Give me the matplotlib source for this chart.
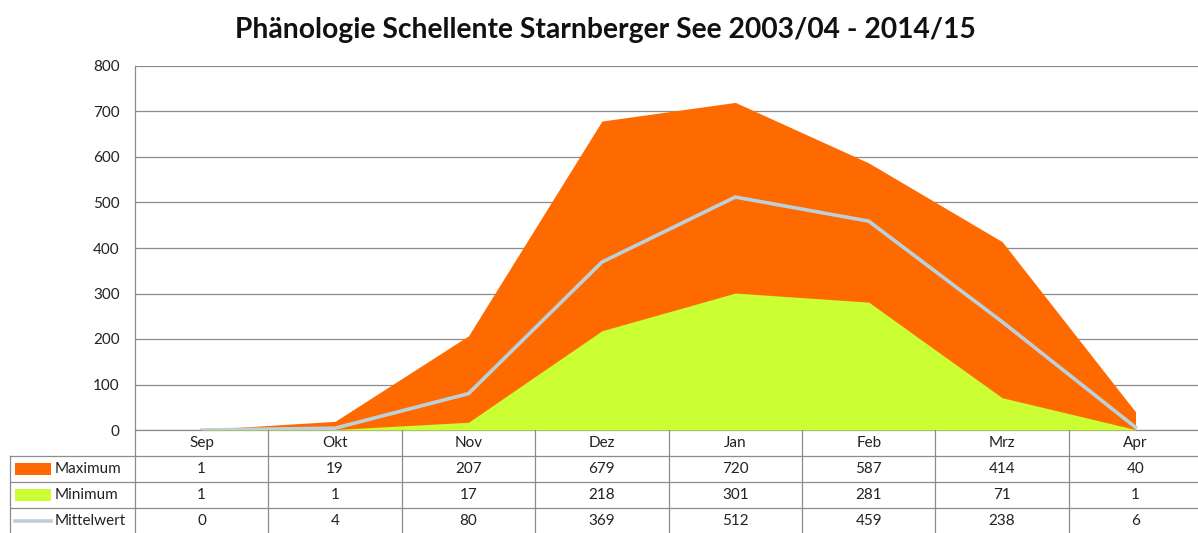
import matplotlib
matplotlib.use("Agg")
from matplotlib import pyplot as plt
import numpy as np

MONTHS = ["Sep", "Okt", "Nov", "Dez", "Jan", "Feb", "Mrz", "Apr"]
MAXIMUM = [1, 19, 207, 679, 720, 587, 414, 40]
MINIMUM = [1, 1, 17, 218, 301, 281, 71, 1]
MITTELWERT = [0, 4, 80, 369, 512, 459, 238, 6]
SERIES_NAMES = ["Maximum", "Minimum", "Mittelwert"]
Y_TICKS = [0, 100, 200, 300, 400, 500, 600, 700, 800]

ORANGE = "#FF6A00"
GREEN = "#CCFF33"
MEAN_COLOR = "#BCD0DA"
GRID = "#8C8C8C"
TEXT = "#222222"
FS = 11

plt.rcParams["font.family"] = ["Lato", "DejaVu Sans"]

W, H = 1198, 533
fig = plt.figure(figsize=(W / 100, H / 100), dpi=100)
fig.patch.set_facecolor("white")

# geometry in pixels
col_w = 133.4
ax_left, ax_top, ax_bottom = 135, 66, 430
ax_right = ax_left + col_w * len(MONTHS)

ax = fig.add_axes([ax_left / W, (H - ax_bottom) / H,
                   (ax_right - ax_left) / W, (ax_bottom - ax_top) / H])
x = np.arange(len(MONTHS))
ax.fill_between(x, 0, MAXIMUM, color=ORANGE, lw=0, zorder=2)
ax.fill_between(x, 0, MINIMUM, color=GREEN, lw=0, zorder=3)
ax.plot(x, MITTELWERT, color=MEAN_COLOR, lw=2.6, zorder=4, solid_joinstyle="miter")
ax.set_xlim(-0.5, len(MONTHS) - 0.5)
ax.set_ylim(0, 800)
ax.set_yticks(Y_TICKS)
ax.set_yticklabels([str(v) for v in Y_TICKS], fontsize=FS, color=TEXT)
ax.yaxis.grid(True, color=GRID, lw=0.9, zorder=0)
ax.set_axisbelow(True)
ax.tick_params(axis="y", length=0, pad=11)
ax.set_xticks([])
for side in ["top", "right"]:
    ax.spines[side].set_visible(False)
ax.spines["left"].set_color(GRID)
ax.spines["bottom"].set_color(GRID)
ax.spines["left"].set_linewidth(0.9)
ax.spines["bottom"].set_linewidth(0.9)

fig.text(0.5 * (235 + 975) / W, 1 - 30 / H,
         "Phänologie Schellente Starnberger See 2003/04 - 2014/15",
         ha="center", va="center", fontsize=20.3, fontweight="bold", color="#111111")

# data table below the axes
row_h = 26
tab_left = 10
legend_w = ax_left - tab_left
tab = fig.add_axes([tab_left / W, (H - (ax_bottom + 4 * row_h)) / H,
                    (ax_right - tab_left) / W, 4 * row_h / H])
x0 = -0.5 - legend_w / col_w
tab.set_xlim(x0, len(MONTHS) - 0.5)
tab.set_ylim(4, 0)
tab.axis("off")

lw = 0.9
# vertical lines between categories
for i in range(len(MONTHS) + 1):
    tab.plot([i - 0.5, i - 0.5], [0, 4], color=GRID, lw=lw, clip_on=False)
tab.plot([x0, x0], [1, 4], color=GRID, lw=lw, clip_on=False)
for r in [1, 2, 3]:
    tab.plot([x0, len(MONTHS) - 0.5], [r, r], color=GRID, lw=lw, clip_on=False)

for i, m in enumerate(MONTHS):
    tab.text(i, 0.5, m, ha="center", va="center", fontsize=FS, color=TEXT)

rows = [MAXIMUM, MINIMUM, MITTELWERT]
for r, vals in enumerate(rows, start=1):
    for i, v in enumerate(vals):
        tab.text(i, r + 0.5, str(v), ha="center", va="center", fontsize=FS, color=TEXT)

# legend keys in first column
key_x0 = x0 + 5 / col_w
key_x1 = x0 + 41 / col_w
tab.fill_between([key_x0, key_x1], 1.28, 1.72, color=ORANGE, lw=0)
tab.fill_between([key_x0, key_x1], 2.28, 2.72, color=GREEN, lw=0)
tab.plot([key_x0, key_x1], [3.5, 3.5], color=MEAN_COLOR, lw=2.6)
for r, name in enumerate(SERIES_NAMES, start=1):
    tab.text(key_x1 + 4 / col_w, r + 0.5, name, ha="left", va="center",
             fontsize=FS, color=TEXT)

fig.savefig("out.png", dpi=100, facecolor="white")
